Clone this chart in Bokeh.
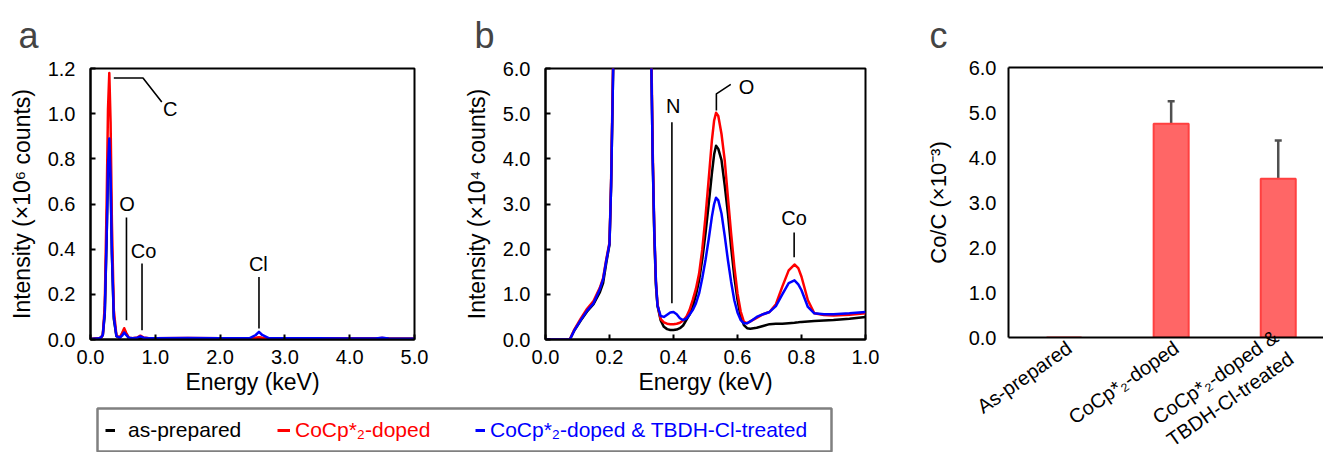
from bokeh.plotting import figure
from bokeh.models import (Range1d, FixedTicker, NumeralTickFormatter, LinearAxis,
                          Legend, LegendItem, Whisker, TeeHead, ColumnDataSource)
from bokeh.layouts import row, column
from bokeh.core.properties import value
from bokeh.embed import file_html
from bokeh.resources import INLINE

FONT = "Liberation Sans"

# ---------------- data ----------------
series_labels = ["as-prepared", "CoCp*\u2082-doped", "CoCp*\u2082-doped & TBDH-Cl-treated"]
series_colors = ["#000000", "#FF0000", "#0000FF"]

# panel a: full spectrum, intensity in 1e6 counts
energy_a = [0.00, 0.10, 0.16, 0.19, 0.22, 0.25, 0.27, 0.29, 0.31, 0.33, 0.36, 0.40,
            0.45, 0.49, 0.52, 0.55, 0.59, 0.65, 0.72, 0.77, 0.82, 0.90, 1.00, 1.50,
            2.00, 2.45, 2.55, 2.60, 2.65, 2.75, 3.00, 3.50, 4.00, 4.40, 4.50, 4.60, 5.00]
black_a = [0.002, 0.004, 0.008, 0.02, 0.11, 0.46, 0.76, 0.87, 0.71, 0.38, 0.09, 0.015,
           0.007, 0.025, 0.043, 0.026, 0.006, 0.004, 0.005, 0.007, 0.005, 0.005, 0.005, 0.006,
           0.005, 0.005, 0.006, 0.007, 0.006, 0.005, 0.005, 0.004, 0.004, 0.004, 0.006, 0.004, 0.003]
red_a = [0.002, 0.004, 0.008, 0.02, 0.15, 0.62, 1.02, 1.18, 0.96, 0.52, 0.13, 0.018,
         0.008, 0.030, 0.050, 0.030, 0.008, 0.006, 0.009, 0.017, 0.009, 0.006, 0.006, 0.007,
         0.005, 0.005, 0.008, 0.010, 0.008, 0.005, 0.005, 0.005, 0.004, 0.004, 0.007, 0.004, 0.003]
blue_a = [0.002, 0.004, 0.008, 0.02, 0.12, 0.47, 0.77, 0.89, 0.72, 0.39, 0.10, 0.015,
          0.008, 0.018, 0.031, 0.020, 0.008, 0.006, 0.008, 0.014, 0.008, 0.006, 0.006, 0.007,
          0.005, 0.005, 0.020, 0.034, 0.020, 0.006, 0.005, 0.005, 0.004, 0.004, 0.008, 0.004, 0.003]

# panel b: low-energy region, intensity in 1e4 counts
energy_b = [0.000, 0.076, 0.090, 0.110, 0.130, 0.150, 0.170, 0.180, 0.190, 0.200, 0.205,
            0.210, 0.215, 0.240, 0.270, 0.290, 0.310, 0.325, 0.330, 0.335, 0.340, 0.345,
            0.350, 0.360, 0.370, 0.380, 0.390, 0.400, 0.410, 0.420, 0.430, 0.440, 0.450,
            0.460, 0.470, 0.480, 0.490, 0.500, 0.510, 0.520, 0.527, 0.533, 0.540, 0.550,
            0.560, 0.570, 0.580, 0.590, 0.600, 0.610, 0.620, 0.630, 0.640, 0.660, 0.680,
            0.700, 0.720, 0.740, 0.760, 0.778, 0.790, 0.800, 0.820, 0.840, 0.870, 0.900,
            0.950, 1.000]
black_b = [0.0, 0.0, 0.20, 0.42, 0.62, 0.78, 1.05, 1.25, 1.70, 2.10, 3.40,
           5.40, 7.50, 40.0, 85.0, 87.0, 60.0, 9.0, 6.5, 4.0, 2.3, 1.2,
           0.75, 0.42, 0.28, 0.23, 0.21, 0.21, 0.22, 0.25, 0.31, 0.43, 0.55,
           0.72, 0.98, 1.31, 1.78, 2.35, 3.00, 3.68, 4.10, 4.29, 4.22, 3.97,
           3.42, 2.79, 2.05, 1.39, 0.88, 0.50, 0.32, 0.25, 0.24, 0.26, 0.30,
           0.34, 0.35, 0.35, 0.36, 0.37, 0.38, 0.39, 0.40, 0.41, 0.42, 0.43,
           0.46, 0.50]
red_b = [0.0, 0.0, 0.22, 0.46, 0.68, 0.85, 1.15, 1.36, 1.78, 2.15, 3.50,
         5.60, 7.80, 52.0, 115.0, 118.0, 70.0, 9.5, 6.8, 4.2, 2.4, 1.3,
         0.78, 0.45, 0.38, 0.35, 0.34, 0.34, 0.35, 0.37, 0.42, 0.50, 0.65,
         0.87, 1.12, 1.46, 2.00, 2.72, 3.55, 4.41, 4.85, 5.02, 4.95, 4.55,
         3.97, 3.15, 2.35, 1.62, 1.02, 0.62, 0.39, 0.36, 0.40, 0.48, 0.56,
         0.61, 0.78, 1.17, 1.53, 1.66, 1.58, 1.39, 0.87, 0.58, 0.54, 0.53,
         0.55, 0.58]
blue_b = [0.0, 0.0, 0.20, 0.43, 0.64, 0.80, 1.12, 1.33, 1.75, 2.12, 3.40,
          5.40, 7.50, 40.0, 86.0, 89.0, 60.0, 9.0, 6.5, 4.0, 2.4, 1.3,
          0.75, 0.52, 0.50, 0.55, 0.60, 0.61, 0.56, 0.47, 0.43, 0.46, 0.55,
          0.65, 0.80, 1.02, 1.36, 1.76, 2.22, 2.72, 3.00, 3.14, 3.08, 2.79,
          2.30, 1.76, 1.28, 0.87, 0.60, 0.43, 0.36, 0.36, 0.40, 0.50, 0.56,
          0.61, 0.74, 1.00, 1.25, 1.31, 1.22, 1.09, 0.72, 0.58, 0.56, 0.56,
          0.58, 0.61]

# peak annotations (label, text x, text y, leader xs, leader ys)
peaks_a = [("C", 1.23, 1.02, [0.36, 0.81, 1.10], [1.158, 1.158, 1.052]),
           ("O", 0.565, 0.60, [0.555, 0.555], [0.54, 0.085]),
           ("Co", 0.82, 0.39, [0.795, 0.795], [0.337, 0.041]),
           ("Cl", 2.59, 0.335, [2.60, 2.60], [0.277, 0.049])]
peaks_b = [("N", 0.399, 5.17, [0.395, 0.395], [4.81, 0.80]),
           ("O", 0.628, 5.60, [0.534, 0.534, 0.579], [5.07, 5.44, 5.65]),
           ("Co", 0.777, 2.70, [0.777, 0.777], [2.37, 1.82])]

# panel c: Co/C ratio (x1e-3)
samples = ["As-prepared", "CoCp*\u2082-doped", "CoCp*\u2082-doped &\nTBDH-Cl-treated"]
co_c_ratio = [0.0, 4.75, 3.53]
co_c_err = [0.0, 0.50, 0.85]

xticks_a = [0, 1, 2, 3, 4, 5]
yticks_a = [0.0, 0.2, 0.4, 0.6, 0.8, 1.0, 1.2]
xticks_b = [0.0, 0.2, 0.4, 0.6, 0.8, 1.0]
yticks_b = [0, 1, 2, 3, 4, 5, 6]
yticks_c = [0, 1, 2, 3, 4, 5, 6]


def style_axes(p, tick_in=5):
    for ax in p.axis:
        ax.axis_line_width = 2
        ax.axis_line_color = "black"
        ax.major_tick_in = tick_in
        ax.major_tick_out = 0
        ax.major_tick_line_width = 2
        ax.major_tick_line_color = "black"
        ax.minor_tick_line_color = None
        ax.major_label_text_font = FONT
        ax.major_label_text_font_size = "20px"
        ax.major_label_text_color = "black"
        ax.axis_label_text_font = FONT
        ax.axis_label_text_font_size = "23px"
        ax.axis_label_text_font_style = "normal"
        ax.axis_label_text_color = "black"
    p.grid.visible = False


def style_title(p, offset, standoff=25):
    p.title.text_font = FONT
    p.title.text_font_size = "36px"
    p.title.text_font_style = "normal"
    p.title.align = "left"
    p.title.offset = offset
    p.title.standoff = standoff


def spectrum_fig(letter, fw, bl, br, xr, yr, xticks, yticks, ylabel, offset):
    p = figure(frame_width=fw, frame_height=271, min_border_left=bl, min_border_right=br,
               min_border_top=68, min_border_bottom=61, x_range=xr, y_range=yr,
               output_backend="svg", toolbar_location=None, title=letter)
    p.outline_line_color = "black"
    p.outline_line_width = 2
    p.xaxis.ticker = FixedTicker(ticks=xticks)
    p.yaxis.ticker = FixedTicker(ticks=yticks)
    p.xaxis.formatter = NumeralTickFormatter(format="0.0")
    p.yaxis.formatter = NumeralTickFormatter(format="0.0")
    p.xaxis.axis_label = "Energy (keV)"
    p.yaxis.axis_label = ylabel
    style_axes(p)
    p.xaxis.major_label_standoff = 10
    p.xaxis.axis_label_standoff = 2
    p.yaxis.major_label_standoff = 15
    p.yaxis.axis_label_standoff = 10
    style_title(p, offset)
    return p


def draw_peaks(p, peaks):
    for lab, tx, ty, lx, ly in peaks:
        p.line(lx, ly, line_color="black", line_width=1.6)
        p.text(x=[tx], y=[ty], text=[lab], text_font=value(FONT), text_font_size="20px",
               text_align="center", text_baseline="middle", text_color="black")


# ---------------- panel a ----------------
pa = spectrum_fig("a", 324, 90, 46, Range1d(0, 5), Range1d(0, 1.2), xticks_a, yticks_a,
                  "Intensity (\u00d710\u2076 counts)", -72)
for ys, c in zip([black_a, red_a, blue_a], series_colors):
    pa.line(energy_a, ys, line_color=c, line_width=2.5, line_join="round")
draw_peaks(pa, peaks_a)

# ---------------- panel b ----------------
pb = spectrum_fig("b", 320, 84, 26, Range1d(0, 1), Range1d(0, 6), xticks_b, yticks_b,
                  "Intensity (\u00d710\u2074 counts)", -71)
for ys, c in zip([black_b, red_b, blue_b], series_colors):
    pb.line(energy_b, ys, line_color=c, line_width=2.5, line_join="round")
draw_peaks(pb, peaks_b)

# ---------------- legend strip ----------------
leg = figure(frame_width=734, frame_height=43, min_border_left=97, min_border_right=59,
             min_border_top=8, min_border_bottom=1, x_range=Range1d(0, 1), y_range=Range1d(0, 1),
             x_axis_type=None, y_axis_type=None, output_backend="svg", toolbar_location=None)
leg.outline_line_color = "#808080"
leg.outline_line_width = 2.5
leg.grid.visible = False
legend_x = [8, 180, 378]
legend_glyph_w = [10, 13, 10]
legend_standoff = [13, 5, 5]
nan = float("nan")
for lab, c, lx, gw, so in zip(series_labels, series_colors, legend_x, legend_glyph_w,
                              legend_standoff):
    r = leg.line(x=[nan, nan], y=[nan, nan], line_color=c, line_width=3)
    lg = Legend(items=[LegendItem(label=lab, renderers=[r])], location=(lx, 9),
                orientation="horizontal", label_text_color=c, label_text_font=FONT,
                label_text_font_size="21px", glyph_width=gw, glyph_height=20,
                label_standoff=so, padding=0, margin=0, border_line_color=None,
                background_fill_alpha=0)
    leg.add_layout(lg, "center")

# ---------------- panel c ----------------
idx = list(range(len(samples)))
label_shift = 0.05  # rotated labels end slightly right of the bar centre
pc = figure(frame_width=316, frame_height=270, min_border_left=117, min_border_right=0,
            min_border_top=67, min_border_bottom=122, x_range=Range1d(-0.519, 2.432),
            y_range=Range1d(0, 6), output_backend="svg", toolbar_location=None, title="c")
pc.outline_line_color = None
pc.vbar(x=idx, top=co_c_ratio, width=0.327, fill_color="#FF6666", line_color="#FF4040",
        line_width=2)
eb = [(i, v, e) for i, v, e in zip(idx, co_c_ratio, co_c_err) if e > 0]
wsrc = ColumnDataSource(dict(base=[t[0] for t in eb], upper=[t[1] + t[2] for t in eb],
                             lower=[t[1] - t[2] for t in eb]))
wk = Whisker(source=wsrc, base="base", upper="upper", lower="lower", line_color="#505050",
             line_width=2.5,
             upper_head=TeeHead(size=7, line_color="#505050", line_width=2.5),
             lower_head=TeeHead(size=7, line_color="#505050", line_width=2.5))
pc.add_layout(wk)
top_ax = LinearAxis(ticker=FixedTicker(ticks=[]), axis_line_width=2, axis_line_color="black")
pc.add_layout(top_ax, "above")
pc.yaxis.ticker = FixedTicker(ticks=yticks_c)
pc.yaxis.formatter = NumeralTickFormatter(format="0.0")
pc.yaxis.axis_label = "Co/C (\u00d710\u207b\u00b3)"
style_axes(pc, tick_in=0)
bx = pc.below[0]
tick_pos = [round(i + label_shift, 2) for i in idx]
bx.ticker = FixedTicker(ticks=tick_pos)
bx.major_label_overrides = {t: s for t, s in zip(tick_pos, samples)}
bx.major_label_orientation = 0.61
bx.major_label_text_font_size = "20px"
bx.major_label_text_line_height = 1.2
bx.major_label_standoff = 8
pc.yaxis.major_label_standoff = 12
pc.yaxis.axis_label_standoff = 15
pc.yaxis.axis_label_text_font_size = "22px"
style_title(pc, -79, standoff=24)

layout = row(column(row(pa, pb), leg), pc)
open("out.html", "w").write(file_html(layout, INLINE))
